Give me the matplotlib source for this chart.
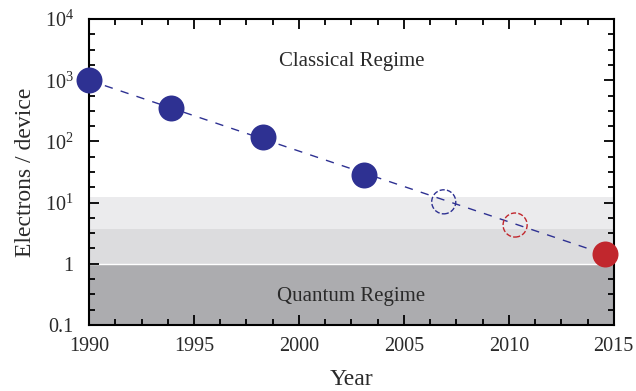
import numpy as np
import matplotlib.pyplot as plt
from matplotlib.ticker import FixedLocator, FixedFormatter

plt.rcParams['font.family'] = ['Liberation Serif', 'DejaVu Serif']
plt.rcParams['mathtext.fontset'] = 'custom'
plt.rcParams['mathtext.rm'] = 'Liberation Serif'
plt.rcParams['mathtext.it'] = 'Liberation Serif:italic'

# measured points (electrons per device)
years_meas = [1990.0, 1993.9, 1998.3, 2003.1]
elec_meas = [1000, 355, 118, 28]
# projections
year_proj_blue = [2006.9]
elec_proj_blue = [10.3]
year_proj_red = [2010.3]
elec_proj_red = [4.3]
# quantum point
year_q = [2014.6]
elec_q = [1.45]
# trend line ends
trend_years = [1990.0, 2014.8]
trend_elec = [1000, 1.35]

# shaded bands (lower, upper, colour)
bands = [(0.1, 1.0, '#acacaf'), (1.0, 3.7, '#dcdcde'), (3.7, 12.5, '#ebebed')]

ytick_vals = [0.1, 1, 10, 100, 1000, 10000]
ytick_labels = ['0.1', '1', r'$10^1$', r'$10^2$', r'$10^3$', r'$10^4$']
xtick_vals = [1990, 1995, 2000, 2005, 2010, 2015]

navy = '#2e3192'
red = '#c1272d'
txt = '#2a2a2a'

fig = plt.figure(figsize=(6.36, 3.91), dpi=100)
ax = fig.add_axes([0.140, 0.169, 0.825, 0.782])

for lo, hi, c in bands:
    ax.axhspan(lo, hi, color=c, lw=0, zorder=0)
ax.axhline(1.0, color='white', lw=1.0, zorder=0.5)

ax.plot(trend_years, trend_elec, ls=(0, (6, 6)), color=navy, lw=1.0, zorder=2)
ax.scatter(years_meas, elec_meas, s=350, color=navy, zorder=3, clip_on=False, lw=0)
ax.scatter(year_q, elec_q, s=350, color=red, zorder=3, clip_on=False, lw=0)
ax.scatter(year_proj_blue, elec_proj_blue, s=300, facecolors='none', edgecolors=navy,
           linestyles='--', lw=1.0, zorder=3)
ax.scatter(year_proj_red, elec_proj_red, s=300, facecolors='none', edgecolors=red,
           linestyles='--', lw=1.0, zorder=3)

ax.text(2002.5, 10**3.3, 'Classical Regime', ha='center', va='center', fontsize=15, color=txt)
ax.text(2002.5, 10**-0.53, 'Quantum Regime', ha='center', va='center', fontsize=15, color=txt)

ax.set_yscale('log')
ax.set_xlim(1990, 2015)
ax.set_ylim(0.1, 10000)

ax.yaxis.set_major_locator(FixedLocator(ytick_vals))
ax.yaxis.set_major_formatter(FixedFormatter(ytick_labels))
ax.yaxis.set_minor_locator(FixedLocator([10 ** (k / 4) for k in range(-4, 17) if k % 4 != 0]))
ax.yaxis.set_minor_formatter(FixedFormatter([]))
ax.xaxis.set_major_locator(FixedLocator(xtick_vals))
ax.xaxis.set_minor_locator(FixedLocator(np.arange(1990, 2015.01, 1.25)))

ax.tick_params(which='both', direction='in', top=True, right=True, labelsize=14.5,
               width=1.3, labelcolor=txt)
ax.tick_params(which='major', length=7)
ax.tick_params(which='minor', length=4)
ax.tick_params(axis='y', which='major', pad=11)
ax.tick_params(axis='x', which='major', pad=9)
for s in ax.spines.values():
    s.set_linewidth(1.5)

ax.set_xlabel('Year', fontsize=17, color=txt, labelpad=9)
ax.set_ylabel('Electrons / device', fontsize=17, color=txt, labelpad=6)

fig.savefig('out.png', dpi=100)
